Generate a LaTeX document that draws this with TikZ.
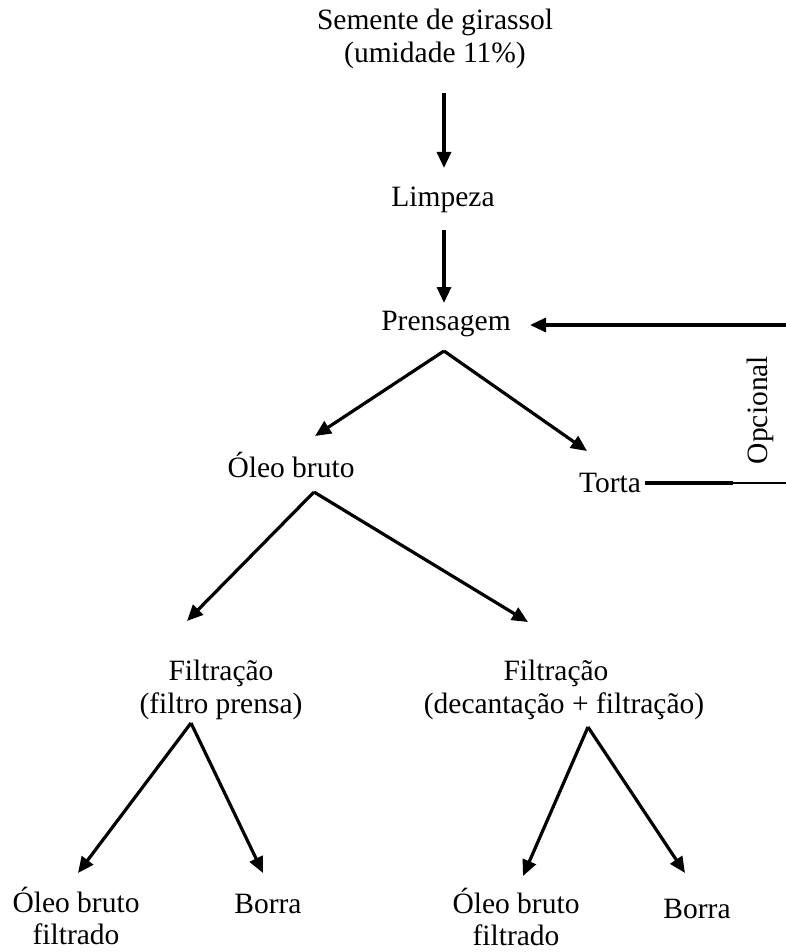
\documentclass[tikz,border=0pt]{standalone}
\usepackage{fontspec}
\setmainfont{Liberation Serif}
\usetikzlibrary{arrows.meta}
\begin{document}
\begin{tikzpicture}[x=1pt,y=-1pt,
  lbl/.style={align=center,inner sep=0pt,font=\fontsize{29.5}{32.5}\selectfont},
  arr/.style={line width=3.2pt,-{Triangle[length=16pt,width=14pt]}},
  ln/.style={line width=3.2pt}]
\useasboundingbox (0,0) rectangle (785,952);
\node[lbl] (sem) at (435,39) {Semente de girassol\\(umidade 11\%)};
\node[lbl] (limp) at (443,200) {Limpeza};
\node[lbl] (pren) at (446,324) {Prensagem};
\node[lbl] (oleo) at (291,465) {Óleo bruto};
\node[lbl] (torta) at (610,483) {Torta};
\node[lbl,rotate=90] (opc) at (760,410) {Opcional};
\node[lbl] (f1) at (221,690) {Filtração\\(filtro prensa)};
\node[lbl] (f2) at (564,690) {Filtração\hspace*{16pt}\\(decantação + filtração)};
\node[lbl] (ob1) at (76,916) {Óleo bruto\\filtrado};
\node[lbl] (b1) at (268,904) {Borra};
\node[lbl] (ob2) at (516,917) {Óleo bruto\\filtrado};
\node[lbl] (b2) at (697,909) {Borra};
% coordinates
\coordinate (s1) at (444,93);
\coordinate (t1) at (444,168);
\coordinate (s2) at (444,230);
\coordinate (t2) at (444,303);
\coordinate (pa) at (444,351);
\coordinate (pl) at (315,436);
\coordinate (pr) at (587,451);
\coordinate (oa) at (314,492);
\coordinate (ol) at (187,621);
\coordinate (or) at (528,622);
\coordinate (la) at (191,723);
\coordinate (ll) at (78,873);
\coordinate (lr) at (263,873);
\coordinate (ra) at (588,727);
\coordinate (rl) at (523,876);
\coordinate (rr) at (685,873);
\coordinate (re) at (786,325);
\coordinate (ta) at (645,483);
\coordinate (tm) at (733,483);
\coordinate (te) at (786,483);
\coordinate (pt) at (530,325);
% arrows
\draw[arr] (s1) -- (t1);
\draw[arr] (s2) -- (t2);
\draw[arr] (pa) -- (pl);
\draw[arr] (pa) -- (pr);
\draw[arr] (oa) -- (ol);
\draw[arr] (oa) -- (or);
\draw[arr] (la) -- (ll);
\draw[arr] (la) -- (lr);
\draw[arr] (ra) -- (rl);
\draw[arr] (ra) -- (rr);
\draw[arr] (re) -- (pt);
\draw[ln] (ta) -- (tm);
\draw[line width=1.8pt] (tm) -- (te);
\end{tikzpicture}
\end{document}
